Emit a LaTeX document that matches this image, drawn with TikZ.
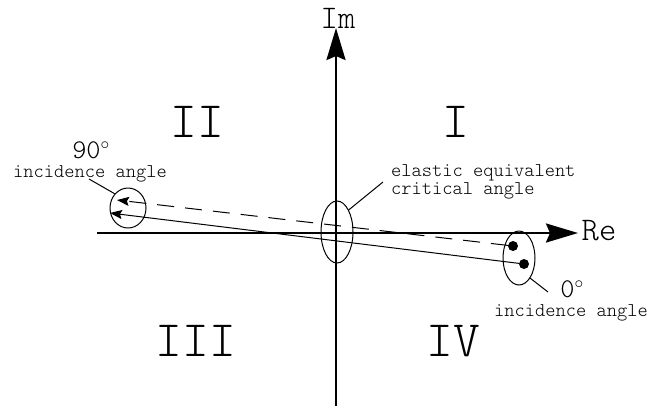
\documentclass[tikz,border=0pt]{standalone}
\usepackage{fontspec}
\setmonofont{Latin Modern Mono Light}
\usetikzlibrary{arrows.meta,shapes.geometric}
\begin{document}
\begin{tikzpicture}[x=1pt,y=-1pt,font=\ttfamily,
  axis/.style={line width=2.6pt,-{Stealth[length=32pt,width=19pt,inset=4pt]}},
  thin/.style={line width=1pt},
  ray/.style={line width=1pt,-{Stealth[length=12pt,width=9pt,inset=2pt]}},
  ell/.style={draw,line width=1pt,ellipse,inner sep=0pt},
  dot/.style={circle,fill=black,inner sep=0pt,minimum size=10pt},
  quad/.style={font=\ttfamily\fontsize{51}{51}\selectfont,inner sep=0pt},
  axlab/.style={font=\ttfamily\fontsize{33}{33}\selectfont,inner sep=0pt},
  small/.style={font=\ttfamily\fontsize{19.5}{18}\selectfont,inner sep=0pt},
  deg/.style={font=\ttfamily\fontsize{27}{27}\selectfont,inner sep=0pt}]
\useasboundingbox (0,0) rectangle (660,408);
% axes
\coordinate (xl) at (97,233);
\coordinate (xr) at (578,233);
\coordinate (yb) at (336,406);
\coordinate (yt) at (336,28);
\draw[axis] (xl) -- (xr);
\draw[axis] (yb) -- (yt);
\node[axlab] (im) at (338,18) {Im};
\node[axlab] (re) at (599,231) {Re};
% quadrant labels
\node[quad] (q1) at (456,122) {I};
\node[quad] (q2) at (197,122) {II};
\node[quad] (q3) at (196,341) {III};
\node[quad] (q4) at (453,341) {IV};
% ellipses
\node[ell,minimum width=36pt,minimum height=40pt] (lell) at (128,208) {};
\node[ell,minimum width=32pt,minimum height=62pt] (cell) at (337,232) {};
\node[ell,minimum width=32pt,minimum height=54pt] (rell) at (519,258) {};
% dots
\node[dot] (d1) at (513,246) {};
\node[dot] (d2) at (524,264) {};
% arrow tips
\coordinate (t1) at (117,200);
\coordinate (t2) at (110,213);
\draw[ray,dash pattern=on 17pt off 11pt] (d1) -- (t1);
\draw[ray] (d2) -- (t2);
% labels
\node[deg] (l90) at (91,150) {90$^{\circ}$};
\node[small] (linc) at (90,174) {incidence angle};
\node[deg] (r0) at (572,289) {0$^{\circ}$};
\node[small] (rinc) at (571,313) {incidence angle};
\node[small,align=left,anchor=west] (crit) at (391,182) {elastic equivalent\\critical angle};
% leaders
\coordinate (ll) at (89,179);
\coordinate (cl) at (383,182);
\coordinate (rl) at (548,292);
\draw[thin] (ll) -- (lell.133);
\draw[thin] (cl) -- (cell.62);
\draw[thin] (rl) -- (rell.-61);
\end{tikzpicture}
\end{document}
